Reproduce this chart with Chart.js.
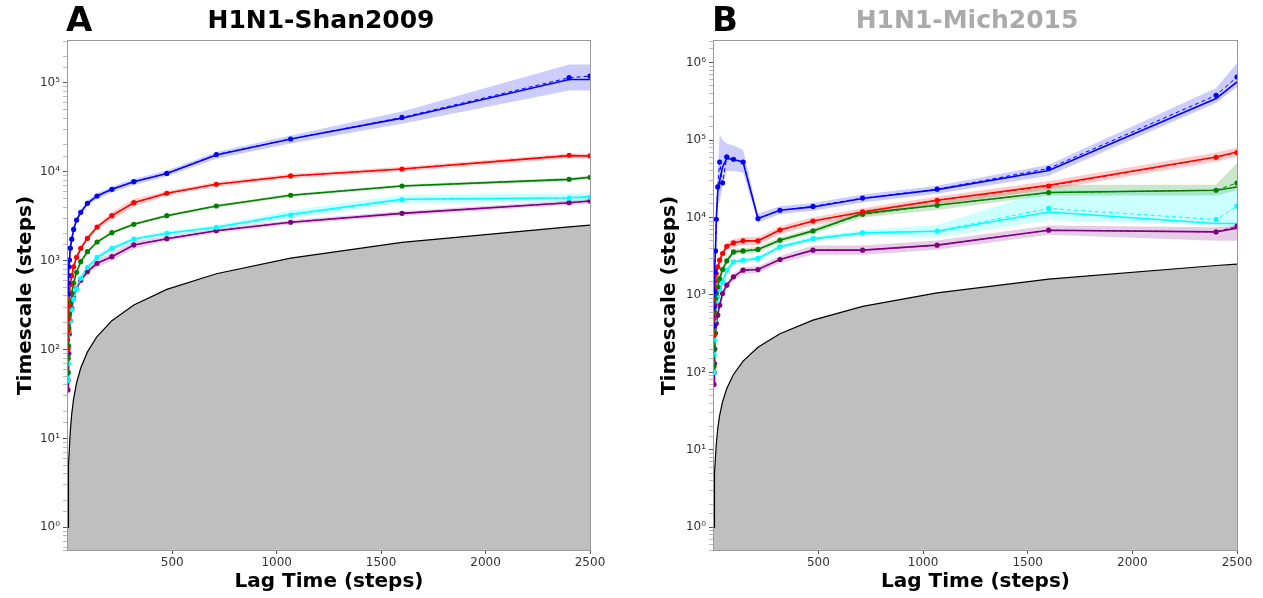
<!DOCTYPE html>
<html>
<head>
<meta charset="utf-8">
<script src="https://cdn.jsdelivr.net/npm/chart.js@4.4.0/dist/chart.umd.min.js"></script>
<style>
  body { margin: 0; background: #fff; width: 1263px; height: 598px; overflow: hidden; position: relative; font-family: "DejaVu Sans", sans-serif; }
  canvas { position: absolute; top: 0; }
  .panel { position: absolute; font-weight: bold; font-size: 34px; line-height: 1; color: #000; }
  .title { position: absolute; width: 400px; text-align: center; font-weight: bold; font-size: 25px; line-height: 1; }
</style>
</head>
<body>
<canvas id="chartA" width="631" height="598" style="left:0px"></canvas>
<canvas id="chartB" width="632" height="598" style="left:631px"></canvas>
<div class="panel" style="left:66px; top:2px">A</div>
<div class="panel" style="left:712px; top:2px">B</div>
<div class="title" style="left:121px; top:7px; color:#000">H1N1-Shan2009</div>
<div class="title" style="left:767px; top:7px; color:#aaaaaa">H1N1-Mich2015</div>
<script>
// lag times (steps) shared by both panels
const lags = [1, 2, 3, 5, 8, 12, 19, 28, 42, 62, 94, 140, 211, 316, 474, 711, 1067, 1600, 2400, 2500];
// timescale = lag time line (grey region below it)
const diagonal = [1, 2, 3, 5, 8, 12, 19, 28, 42, 62, 94, 140, 211, 316, 474, 711, 1067, 1600, 2400, 2500];

const xTicks = [500, 1000, 1500, 2000, 2500];
const xTickLabels = ['500', '1000', '1500', '2000', '2500'];
const yTicks = [1, 10, 100, 1000, 10000, 100000, 1000000];
const yTickLabels = ['10⁰', '10¹', '10²', '10³', '10⁴', '10⁵', '10⁶'];

// ---- panel A: H1N1-Shan2009 ----
const blueA      = [420, 560, 680, 850, 1016, 1380, 1740, 2240, 2860, 3490, 4410, 5330, 6330, 7720, 9560, 15400, 23300, 40000, 109000, 109000];
const blueAmle   = [420, 560, 680, 850, 1016, 1380, 1740, 2240, 2860, 3490, 4410, 5330, 6330, 7720, 9560, 15600, 23300, 40800, 114000, 119000];
const blueAlo    = [390, 520, 630, 790, 940, 1280, 1610, 2080, 2650, 3230, 4080, 4930, 5850, 7100, 8800, 14000, 20800, 34500, 82000, 82000];
const blueAhi    = [450, 600, 730, 910, 1090, 1480, 1870, 2400, 3070, 3750, 4740, 5730, 6800, 8350, 10300, 16600, 25500, 47500, 160000, 160000];

const redA       = [100, 160, 220, 310, 430, 540, 676, 853, 1088, 1375, 1782, 2388, 3200, 4480, 5720, 7210, 8950, 10720, 15140, 15000];
const redAmle    = [100, 160, 220, 310, 430, 540, 676, 853, 1088, 1375, 1782, 2388, 3200, 4480, 5720, 7210, 8950, 10720, 15300, 15100];
const redAlo     = [94, 150, 207, 291, 404, 508, 635, 802, 1023, 1290, 1675, 2240, 2880, 4030, 5380, 6780, 8410, 10080, 14200, 14100];
const redAhi     = [106, 170, 233, 329, 456, 572, 717, 904, 1153, 1460, 1890, 2530, 3520, 4930, 6060, 7640, 9490, 11360, 16050, 15900];

const greenA     = [55, 80, 110, 175, 250, 330, 430, 560, 738, 972, 1259, 1618, 2060, 2560, 3200, 4110, 5430, 6900, 8200, 8650];
const greenAmle  = [55, 80, 110, 175, 250, 330, 430, 560, 738, 972, 1259, 1618, 2060, 2560, 3200, 4110, 5430, 6900, 8200, 8650];
const greenAlo   = [53, 77, 106, 168, 240, 317, 413, 538, 708, 933, 1209, 1553, 1978, 2458, 3072, 3946, 5213, 6624, 7872, 8300];
const greenAhi   = [57, 83, 114, 182, 260, 343, 447, 582, 768, 1011, 1309, 1683, 2142, 2662, 3328, 4274, 5647, 7176, 8528, 9000];

const cyanA      = [45, 55, 70, 105, 160, 210, 280, 370, 480, 632, 841, 1089, 1375, 1750, 2028, 2370, 3320, 4900, 5100, 5240];
const cyanAmle   = [45, 55, 70, 105, 160, 210, 280, 370, 480, 632, 841, 1089, 1375, 1750, 2028, 2370, 3250, 4850, 5050, 5150];
const cyanAlo    = [42, 52, 66, 99, 150, 197, 263, 348, 451, 594, 790, 1024, 1290, 1645, 1906, 2230, 3000, 4400, 4550, 4650];
const cyanAhi    = [48, 58, 74, 111, 170, 223, 297, 392, 509, 670, 892, 1154, 1460, 1855, 2150, 2510, 3650, 5500, 5700, 5850];

const purpleA    = [35, 45, 55, 90, 150, 210, 290, 380, 488, 600, 750, 933, 1107, 1500, 1763, 2170, 2700, 3400, 4480, 4680];
const purpleAmle = [35, 45, 55, 90, 150, 210, 290, 380, 488, 600, 750, 933, 1107, 1500, 1763, 2170, 2700, 3400, 4480, 4680];
const purpleAlo  = [33, 42, 52, 85, 141, 197, 273, 357, 459, 564, 705, 840, 1000, 1350, 1660, 2040, 2540, 3200, 4210, 4400];
const purpleAhi  = [37, 48, 58, 95, 159, 223, 307, 403, 517, 636, 795, 1030, 1220, 1650, 1870, 2300, 2860, 3600, 4750, 4960];

// ---- panel B: H1N1-Mich2015 ----
const blueB      = [400, 700, 1100, 2000, 3700, 9500, 22000, 30000, 45000, 58000, 56000, 52000, 9700, 12400, 13700, 17600, 22900, 40500, 343000, 562000];
const blueBmle   = [400, 700, 1100, 2000, 3700, 9500, 24800, 52000, 28000, 60500, 56500, 52100, 9700, 12400, 13900, 17800, 23200, 42900, 378000, 652000];
const blueBlo    = [360, 630, 990, 1800, 3300, 8000, 15000, 16000, 25000, 40000, 40000, 38000, 8600, 11000, 12200, 15600, 20300, 34500, 300000, 484000];
const blueBhi    = [440, 770, 1210, 2200, 4100, 11000, 40000, 120000, 100000, 90000, 85000, 75000, 11200, 14000, 15400, 19800, 25800, 48000, 470000, 977000];

const redB       = [300, 500, 750, 1200, 1500, 1890, 2300, 2810, 3430, 4250, 4700, 5000, 5000, 6900, 9000, 11800, 16700, 26100, 60500, 70200];
const redBmle    = [300, 500, 750, 1200, 1500, 1890, 2300, 2810, 3430, 4250, 4700, 5000, 5000, 6900, 9000, 11800, 16700, 25500, 60000, 69000];
const redBlo     = [264, 440, 660, 1056, 1320, 1663, 2024, 2473, 3018, 3740, 4136, 4400, 4400, 6072, 7920, 10380, 14700, 22900, 52600, 61000];
const redBhi     = [336, 560, 840, 1344, 1680, 2117, 2576, 3147, 3842, 4760, 5264, 5600, 5600, 7728, 10080, 13200, 18700, 29600, 69000, 80000];

const greenB     = [120, 200, 320, 600, 900, 1050, 1270, 1630, 2130, 2750, 3600, 3700, 3870, 5100, 6720, 11300, 14400, 21000, 22500, 24800];
const greenBmle  = [120, 200, 320, 600, 900, 1050, 1270, 1630, 2130, 2750, 3600, 3700, 3870, 5100, 6720, 11000, 14400, 21000, 22500, 27900];
const greenBlo   = [110, 185, 295, 550, 830, 970, 1170, 1500, 1960, 2530, 3310, 3400, 3560, 4690, 6180, 10000, 12500, 19300, 19300, 22500];
const greenBhi   = [130, 215, 345, 650, 970, 1130, 1370, 1760, 2300, 2970, 3890, 4000, 4180, 5510, 7260, 12500, 17000, 26400, 26400, 50000];

const cyanB      = [100, 170, 260, 480, 700, 820, 945, 1200, 1475, 2090, 2670, 2810, 2960, 4180, 5300, 6330, 6650, 11800, 8370, 8370];
const cyanBmle   = [100, 170, 260, 480, 700, 820, 945, 1200, 1475, 2090, 2670, 2810, 2960, 4180, 5360, 6330, 6700, 13100, 9420, 14000];
const cyanBlo    = [92, 156, 240, 440, 645, 755, 870, 1100, 1360, 1920, 2460, 2590, 2720, 3850, 4880, 5800, 5500, 9230, 7940, 8000];
const cyanBhi    = [108, 184, 280, 520, 755, 885, 1020, 1300, 1590, 2260, 2880, 3030, 3200, 4510, 5720, 6900, 8000, 22600, 22600, 23000];

const purpleB    = [70, 100, 130, 200, 320, 429, 549, 738, 1045, 1337, 1713, 2090, 2130, 2870, 3790, 3790, 4400, 6860, 6520, 7300];
const purpleBmle = [70, 100, 130, 200, 320, 429, 549, 738, 1045, 1337, 1713, 2090, 2130, 2870, 3790, 3790, 4400, 6860, 6520, 7730];
const purpleBlo  = [63, 90, 117, 180, 288, 386, 494, 664, 940, 1200, 1540, 1880, 1920, 2580, 3300, 3300, 3830, 5970, 5000, 5000];
const purpleBhi  = [77, 110, 143, 220, 352, 472, 604, 812, 1150, 1470, 1885, 2300, 2340, 3160, 4360, 4360, 5060, 7890, 7500, 8000];

const COLORS = {
  blue:   ['#0000ff', 'rgba(0,0,255,0.2)'],
  red:    ['#ff0000', 'rgba(255,0,0,0.2)'],
  green:  ['#008000', 'rgba(0,128,0,0.2)'],
  cyan:   ['#00ffff', 'rgba(0,255,255,0.2)'],
  purple: ['#800080', 'rgba(128,0,128,0.2)']
};

function pts(values) {
  return lags.map((x, i) => ({ x: x, y: values[i] }));
}

function buildDatasets(series) {
  const sets = [{
    data: pts(diagonal), borderColor: '#000', borderWidth: 1.2, pointRadius: 0,
    backgroundColor: '#bfbfbf', fill: 'start', order: 100
  }];
  series.forEach(s => {
    const [line, band] = COLORS[s.color];
    const loIndex = sets.length;
    sets.push({ data: pts(s.lo), borderWidth: 0, pointRadius: 0, fill: false, order: 50 });
    sets.push({ data: pts(s.hi), borderWidth: 0, pointRadius: 0, backgroundColor: band,
      fill: { target: loIndex, above: band, below: band }, order: 50 });
    sets.push({ data: pts(s.mean), borderColor: line, borderWidth: 1.6, pointRadius: 0, fill: false, order: 2 });
    sets.push({ data: pts(s.mle), borderColor: line, borderWidth: 1, borderDash: [4, 3], pointRadius: 2.6,
      pointBackgroundColor: line, pointBorderWidth: 0, fill: false, order: 1 });
  });
  return sets;
}

const framePlugin = {
  id: 'frame',
  afterDatasetsDraw(chart) {
    const { ctx, chartArea: a } = chart;
    ctx.save();
    ctx.strokeStyle = '#999';
    ctx.lineWidth = 1;
    ctx.strokeRect(Math.round(a.left) - 0.5, Math.round(a.top) - 0.5, Math.round(a.right - a.left) + 1, Math.round(a.bottom - a.top) + 1);
    ctx.restore();
  }
};

function yLabel(v) {
  const i = yTicks.findIndex(t => Math.abs(t - v) < t * 1e-6);
  return i >= 0 ? yTickLabels[i] : '';
}

function makeChart(id, series, yMin, yMax, pad, yWidth) {
  return new Chart(document.getElementById(id), {
    type: 'line',
    data: { datasets: buildDatasets(series) },
    plugins: [framePlugin],
    options: {
      responsive: false,
      animation: false,
      layout: { padding: pad },
      plugins: { legend: { display: false }, tooltip: { enabled: false } },
      elements: { line: { tension: 0 } },
      scales: {
        x: {
          type: 'linear', min: 1, max: 2500,
          afterBuildTicks: (scale) => { scale.ticks = xTicks.map(v => ({ value: v })); },
          afterFit: (scale) => { scale.height = 48; },
          grid: { drawOnChartArea: false, tickLength: 4, color: '#555' },
          border: { display: false },
          ticks: {
            autoSkip: false, maxRotation: 0, padding: 2, color: '#333',
            font: { family: 'DejaVu Sans', size: 12 },
            callback: (v) => xTickLabels[xTicks.indexOf(v)]
          },
          title: { display: true, text: 'Lag Time (steps)', color: '#000',
            font: { family: 'DejaVu Sans', size: 20, weight: 'bold' }, padding: { top: 4, bottom: 4 } }
        },
        y: {
          type: 'logarithmic', min: yMin, max: yMax,
          afterFit: (scale) => { scale.width = yWidth; },
          grid: {
            drawOnChartArea: false, tickLength: 5,
            color: (ctx) => (ctx.tick && yLabel(ctx.tick.value) ? '#555' : '#bbb')
          },
          border: { display: false },
          ticks: {
            autoSkip: false, padding: 3, color: '#333',
            font: { family: 'DejaVu Sans', size: 12 },
            callback: (v) => yLabel(v)
          },
          title: { display: true, text: 'Timescale (steps)', color: '#000',
            font: { family: 'DejaVu Sans', size: 20, weight: 'bold' }, padding: { top: 4, bottom: 4 } }
        }
      }
    }
  });
}

makeChart('chartA', [
  { color: 'blue',   mean: blueA,   mle: blueAmle,   lo: blueAlo,   hi: blueAhi },
  { color: 'red',    mean: redA,    mle: redAmle,    lo: redAlo,    hi: redAhi },
  { color: 'green',  mean: greenA,  mle: greenAmle,  lo: greenAlo,  hi: greenAhi },
  { color: 'cyan',   mean: cyanA,   mle: cyanAmle,   lo: cyanAlo,   hi: cyanAhi },
  { color: 'purple', mean: purpleA, mle: purpleAmle, lo: purpleAlo, hi: purpleAhi }
], 0.556, 295000, { left: 10, right: 41, top: 41, bottom: 0 }, 58);

makeChart('chartB', [
  { color: 'blue',   mean: blueB,   mle: blueBmle,   lo: blueBlo,   hi: blueBhi },
  { color: 'red',    mean: redB,    mle: redBmle,    lo: redBlo,    hi: redBhi },
  { color: 'green',  mean: greenB,  mle: greenBmle,  lo: greenBlo,  hi: greenBhi },
  { color: 'cyan',   mean: cyanB,   mle: cyanBmle,   lo: cyanBlo,   hi: cyanBhi },
  { color: 'purple', mean: purpleB, mle: purpleBmle, lo: purpleBlo, hi: purpleBhi }
], 0.51, 1900000, { left: 23, right: 26, top: 41, bottom: 0 }, 60);
</script>
</body>
</html>
